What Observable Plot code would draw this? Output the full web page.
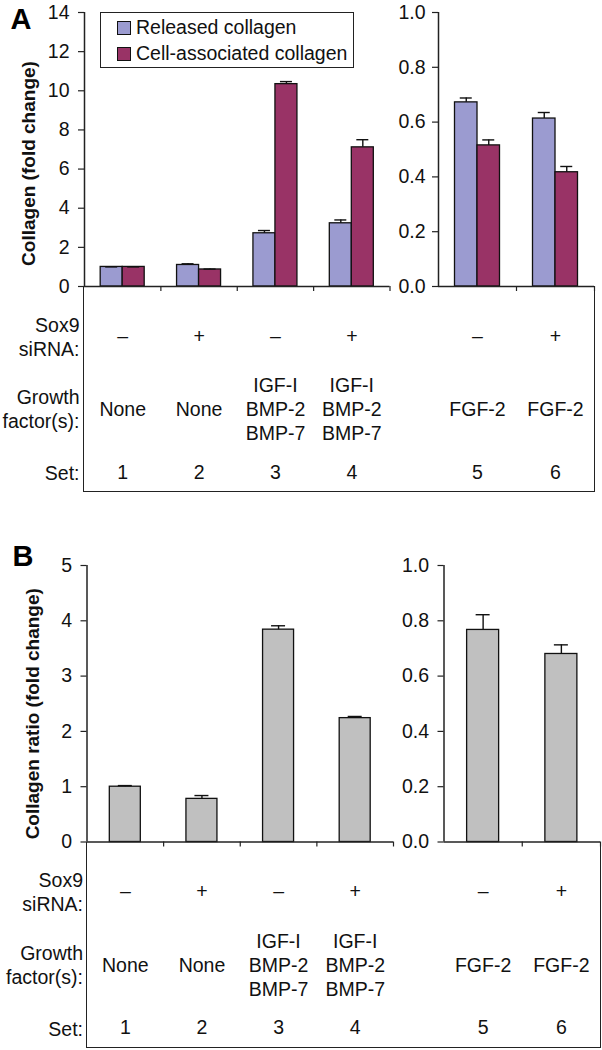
<!DOCTYPE html>
<html><head><meta charset="utf-8">
<script src="https://cdn.jsdelivr.net/npm/d3@7"></script>
<script src="https://cdn.jsdelivr.net/npm/@observablehq/plot@0.6"></script>
<style>
body{margin:0;background:#fff;}
#fig{position:relative;width:602px;height:1050px;overflow:hidden;font-family:"Liberation Sans",Arial,sans-serif;color:#111;}
.box{position:absolute;box-sizing:border-box;border-left:1.5px solid #222;border-right:1.5px solid #222;border-bottom:1.5px solid #222;}
.legend{position:absolute;box-sizing:border-box;border:1.3px solid #222;background:#fff;font-size:19.5px;}
.legend .item{position:absolute;left:16px;white-space:nowrap;line-height:22px;}
.legend .sw{display:inline-block;width:12px;height:12px;border:1.2px solid #111;margin-right:5px;vertical-align:-1px;}
</style></head><body><div id="fig"></div>
<script>
// ---- data ----
const sets = ["1","2","3","4","5","6"];
const sox9 = ["–","+","–","+","–","+"];
const growthFactors = ["None","None","IGF-I\nBMP-2\nBMP-7","IGF-I\nBMP-2\nBMP-7","FGF-2","FGF-2"];
const rowLabels = ["Sox9\nsiRNA:","Growth\nfactor(s):","Set:"];
const seriesNames = ["Released collagen","Cell-associated collagen"];
const seriesColors = ["#9b9bd0","#993366"];
const released = [1.0,1.1,2.72,3.23,0.672,0.613];
const releasedErr = [0,0.06,0.14,0.17,0.016,0.022];
const cellAssociated = [1.0,0.87,10.34,7.11,0.515,0.417];
const cellAssociatedErr = [0,0.02,0.13,0.39,0.02,0.021];
const ratio = [1.0,0.78,3.84,2.24,0.767,0.68];
const ratioErr = [0.02,0.06,0.07,0.03,0.055,0.033];
const ticksCollagen = [0,2,4,6,8,10,12,14];
const ticksRatio = [0,1,2,3,4,5];
const ticksFraction = [0,0.2,0.4,0.6,0.8,1.0];
const yTitleA = "Collagen (fold change)";
const yTitleB = "Collagen ratio (fold change)";
const ratioColor = "#c0c0c0";

const rows = sets.map((s,i)=>({set:s, sox9:sox9[i], growth:growthFactors[i],
  released:released[i], releasedErr:releasedErr[i],
  cell:cellAssociated[i], cellErr:cellAssociatedErr[i],
  ratio:ratio[i], ratioErr:ratioErr[i]}));

const FONT = '"Liberation Sans", Arial, sans-serif';
const INK = "#111";
const fig = document.getElementById("fig");
function place(node, left, top){ node.style.position="absolute"; node.style.left=left+"px"; node.style.top=top+"px"; fig.appendChild(node); }
function box(left, top, right, bottom){
  const d=document.createElement("div"); d.className="box";
  d.style.left=left+"px"; d.style.top=top+"px"; d.style.width=(right-left)+"px"; d.style.height=(bottom-top)+"px";
  fig.appendChild(d);
}

function tableMarks(data, labelDx){
  const base = {x:"set", frameAnchor:"bottom", textAnchor:"middle", lineAnchor:"middle", fontSize:19.5, fill:INK};
  const m = [
    Plot.text(data, {...base, text:"sox9", dy:50}),
    Plot.text(data, {...base, text:"growth", dy:122, lineHeight:1.24}),
    Plot.text(data, {...base, text:"set", dy:186})
  ];
  if (labelDx != null) {
    const lb = {text:d=>d, frameAnchor:"bottom-left", textAnchor:"end", lineAnchor:"middle", dx:labelDx, fontSize:19.5, lineHeight:1.25, fill:INK};
    m.push(Plot.text([rowLabels[0]], {...lb, dy:49.5}));
    m.push(Plot.text([rowLabels[1]], {...lb, dy:122}));
    m.push(Plot.text([rowLabels[2]], {...lb, dy:186}));
  }
  return m;
}

function subplot(o){
  const bw = (o.width - o.marginLeft - o.marginRight) / o.data.length;
  const marks = [];
  if (o.grouped) {
    const w = o.barW, cap = o.capW;
    marks.push(
      Plot.barY(o.data, {x:"set", y:"released", fill:seriesColors[0], stroke:INK, strokeWidth:1.3, insetLeft:bw/2-w, insetRight:bw/2}),
      Plot.barY(o.data, {x:"set", y:"cell", fill:seriesColors[1], stroke:INK, strokeWidth:1.3, insetLeft:bw/2, insetRight:bw/2-w}),
      Plot.ruleX(o.data, {x:"set", y1:"released", y2:d=>d.released+d.releasedErr, dx:-w/2, stroke:INK, strokeWidth:1.4}),
      Plot.ruleX(o.data, {x:"set", y1:"cell", y2:d=>d.cell+d.cellErr, dx:w/2, stroke:INK, strokeWidth:1.4}),
      Plot.tickY(o.data, {x:"set", y:d=>d.released+d.releasedErr, dx:-w/2, insetLeft:bw/2-cap/2, insetRight:bw/2-cap/2, stroke:INK, strokeWidth:1.4}),
      Plot.tickY(o.data, {x:"set", y:d=>d.cell+d.cellErr, dx:w/2, insetLeft:bw/2-cap/2, insetRight:bw/2-cap/2, stroke:INK, strokeWidth:1.4})
    );
  } else {
    const w = o.barW, cap = o.capW;
    marks.push(
      Plot.barY(o.data, {x:"set", y:"ratio", fill:ratioColor, stroke:INK, strokeWidth:1.3, insetLeft:(bw-w)/2, insetRight:(bw-w)/2}),
      Plot.ruleX(o.data, {x:"set", y1:"ratio", y2:d=>d.ratio+d.ratioErr, stroke:INK, strokeWidth:1.4}),
      Plot.tickY(o.data, {x:"set", y:d=>d.ratio+d.ratioErr, insetLeft:(bw-cap)/2, insetRight:(bw-cap)/2, stroke:INK, strokeWidth:1.4})
    );
  }
  marks.push(
    Plot.ruleY([0], {stroke:"#222", strokeWidth:1.5}),
    Plot.ruleX([o.data[0].set], {dx:-bw/2, stroke:"#222", strokeWidth:1.5}),
    Plot.axisY({ticks:o.yTicks, tickFormat:o.yFormat, tickSize:6, tickPadding:o.tickPadding, label:null, fontSize:19.5, stroke:"#222", strokeWidth:1.2, fill:INK}),
    Plot.axisX({tickSize:5, tickFormat:()=> "", label:null, dx:bw/2, stroke:"#222", strokeWidth:1.2}),
    ...tableMarks(o.data, o.labelDx)
  );
  if (o.yTitle) marks.push(Plot.text([o.yTitle], {text:d=>d, frameAnchor:"left", textAnchor:"middle", lineAnchor:"middle", rotate:-90, dx:o.yTitleDx, dy:o.yTitleDy, fontSize:19, fontWeight:"bold", fill:INK}));
  if (o.letter) marks.push(Plot.text([o.letter], {text:d=>d, frameAnchor:"top-left", textAnchor:"start", lineAnchor:"top", dx:o.letterDx, dy:o.letterDy, fontSize:29, fontWeight:"bold", fill:"#000"}));
  const svg = Plot.plot({
    width:o.width, height:o.height,
    marginLeft:o.marginLeft, marginRight:o.marginRight, marginTop:o.marginTop, marginBottom:o.marginBottom,
    style:{fontFamily:FONT, fontSize:"19.5px", background:"transparent", overflow:"visible", color:INK},
    x:{type:"band", domain:o.data.map(d=>d.set), padding:0, round:false},
    y:{domain:o.yDomain},
    marks
  });
  place(svg, o.left, o.top);
  return svg;
}

const left4 = rows.slice(0,4), right2 = rows.slice(4);

// ---- Panel A ----
box(83.25, 286, 594.75, 491.5);
subplot({left:0, top:0, width:392, height:494, marginLeft:84, marginRight:2.5, marginTop:12, marginBottom:208,
  data:left4, grouped:true, barW:22, capW:12, yDomain:[0,14], yTicks:ticksCollagen, yFormat:d3.format("d"), tickPadding:9,
  labelDx:-5, yTitle:yTitleA, yTitleDx:-56, yTitleDy:14, letter:"A", letterDx:-74, letterDy:-4});
subplot({left:392, top:0, width:210, height:494, marginLeft:46, marginRight:8, marginTop:12, marginBottom:208,
  data:right2, grouped:true, barW:22.5, capW:12, yDomain:[0,1], yTicks:ticksFraction, yFormat:d3.format(".1f"), tickPadding:7});

// legend
const lg = document.createElement("div"); lg.className="legend";
lg.style.left="100px"; lg.style.top="12px"; lg.style.width="254px"; lg.style.height="56px";
seriesNames.forEach((n,i)=>{
  const it=document.createElement("div"); it.className="item"; it.style.top=(3+i*25.5)+"px";
  const sw=document.createElement("span"); sw.className="sw"; sw.style.background=seriesColors[i];
  it.appendChild(sw); it.appendChild(document.createTextNode(n)); lg.appendChild(it);
});
fig.appendChild(lg);

// ---- Panel B ----
box(85.75, 841.5, 600.75, 1047.5);
subplot({left:0, top:540, width:396, height:510, marginLeft:86.5, marginRight:3, marginTop:25, marginBottom:208.5,
  data:left4, grouped:false, barW:31, capW:14, yDomain:[0,5], yTicks:ticksRatio, yFormat:d3.format("d"), tickPadding:9,
  labelDx:-4, yTitle:yTitleB, yTitleDx:-54.5, yTitleDy:10, letter:"B", letterDx:-74.5, letterDy:-20});
subplot({left:396, top:540, width:206, height:510, marginLeft:47.5, marginRight:2, marginTop:25, marginBottom:208.5,
  data:right2, grouped:false, barW:32, capW:14, yDomain:[0,1], yTicks:ticksFraction, yFormat:d3.format(".1f"), tickPadding:9});
</script></body></html>
